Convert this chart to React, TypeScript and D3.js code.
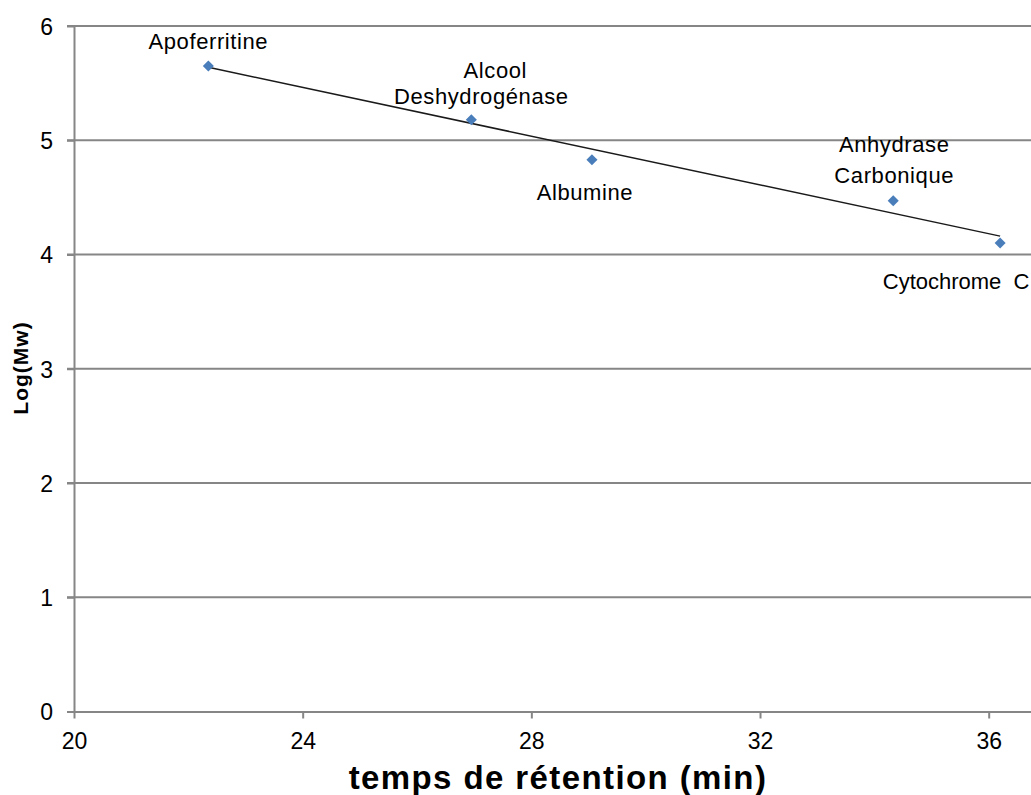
import * as d3 from "d3";
import { FC, useEffect, useRef } from "react";

// retention time (min) and log of molecular weight for each standard
const proteins = [
  ["Apoferritine"],
  ["Alcool", "Deshydrogénase"],
  ["Albumine"],
  ["Anhydrase", "Carbonique"],
  ["Cytochrome  C"],
];
const retention = [22.35, 26.95, 29.06, 34.33, 36.2];
const logMw = [5.65, 5.18, 4.83, 4.47, 4.1];
const xTicks = [20, 24, 28, 32, 36];
const yTicks = [0, 1, 2, 3, 4, 5, 6];

// label placement relative to its point, px: one [dx, dy] per line (baseline)
const labelOffsets: [number, number][][] = [
  [[0, -17]],
  [[24, -42], [10, -16]],
  [[-7, 40]],
  [[1, -49], [1, -18]],
  [[-44, 46]],
];
const labelSpacing = [0.6, 0.6, 0.6, 0.6, 0];

const W = 1031;
const H = 795;
const margin = { top: 26, right: 0, bottom: 83, left: 74 };

const Chart: FC = () => {
  const svgRef = useRef<SVGSVGElement>(null);

  useEffect(() => {
    const svg = d3.select(svgRef.current);
    svg.selectAll("*").remove();
    svg.attr("width", W).attr("height", H);

    const font = "'Liberation Sans', Arial, sans-serif";
    const grey = "#868686";

    const x = d3
      .scaleLinear()
      .domain([20, 36.74])
      .range([margin.left, W - margin.right]);
    const y = d3
      .scaleLinear()
      .domain([0, 6])
      .range([H - margin.bottom - 0.5, margin.top]);

    // gridlines
    svg
      .append("g")
      .selectAll("line")
      .data(yTicks.filter((t) => t > 0))
      .join("line")
      .attr("x1", margin.left - 7)
      .attr("x2", W)
      .attr("y1", (d) => y(d))
      .attr("y2", (d) => y(d))
      .attr("stroke", grey)
      .attr("stroke-width", 2);

    // x axis
    const xAxis = svg
      .append("g")
      .attr("transform", `translate(0, ${y(0)})`)
      .call(d3.axisBottom(x).tickValues(xTicks).tickSize(7).tickSizeOuter(0));
    xAxis.select(".domain").attr("stroke", grey).attr("stroke-width", 2);
    xAxis.selectAll(".tick line").attr("stroke", grey).attr("stroke-width", 2);
    xAxis
      .selectAll(".tick text")
      .attr("font-family", font)
      .attr("font-size", 23)
      .attr("fill", "#000")
      .attr("y", 37)
      .attr("dy", 0);

    // y axis
    const yAxis = svg
      .append("g")
      .attr("transform", `translate(${margin.left}, 0)`)
      .call(
        d3
          .axisLeft(y)
          .tickValues(yTicks)
          .tickFormat(d3.format("d"))
          .tickSize(7)
          .tickSizeOuter(0)
      );
    yAxis.select(".domain").attr("stroke", grey).attr("stroke-width", 2);
    yAxis.selectAll(".tick line").attr("stroke", grey).attr("stroke-width", 2);
    yAxis
      .selectAll(".tick text")
      .attr("font-family", font)
      .attr("font-size", 23)
      .attr("fill", "#000")
      .attr("x", -21)
      .attr("dy", "0.36em");

    // linear trendline (least squares)
    const mx = d3.mean(retention)!;
    const my = d3.mean(logMw)!;
    const sxy = d3.sum(retention, (v, i) => (v - mx) * (logMw[i] - my));
    const sxx = d3.sum(retention, (v) => (v - mx) ** 2);
    const slope = sxy / sxx;
    const icpt = my - slope * mx;
    const [x0, x1] = d3.extent(retention) as [number, number];
    svg
      .append("line")
      .attr("x1", x(x0))
      .attr("x2", x(x1))
      .attr("y1", y(icpt + slope * x0))
      .attr("y2", y(icpt + slope * x1))
      .attr("stroke", "#1a1a1a")
      .attr("stroke-width", 1.5);

    // points
    const pts = retention.map((r, i) => ({ r, v: logMw[i], lines: proteins[i], i }));
    svg
      .append("g")
      .selectAll("path")
      .data(pts)
      .join("path")
      .attr("transform", (d) => `translate(${x(d.r)}, ${y(d.v)})`)
      .attr("d", d3.symbol(d3.symbolDiamond2, 78)())
      .attr("fill", "#4a7ebb");

    // labels
    const lbl = svg.append("g");
    pts.forEach((d) => {
      d.lines.forEach((line, k) => {
        const [dx, dy] = labelOffsets[d.i][k];
        lbl
          .append("text")
          .attr("x", x(d.r) + dx)
          .attr("y", y(d.v) + dy)
          .attr("font-family", font)
          .attr("font-size", 22)
          .attr("letter-spacing", labelSpacing[d.i])
          .attr("text-anchor", "middle")
          .attr("fill", "#000")
          .style("white-space", "pre")
          .text(line);
      });
    });

    // axis titles
    svg
      .append("text")
      .attr("x", 558)
      .attr("y", 789)
      .attr("text-anchor", "middle")
      .attr("font-family", font)
      .attr("font-size", 33)
      .attr("letter-spacing", 1.4)
      .attr("font-weight", "bold")
      .text("temps de rétention (min)");
    svg
      .append("text")
      .attr("transform", `translate(28, 368) rotate(-90)`)
      .attr("text-anchor", "middle")
      .attr("font-family", font)
      .attr("font-size", 21)
      .attr("letter-spacing", 1)
      .attr("font-weight", "bold")
      .text("Log(Mw)");
  }, []);

  return <svg ref={svgRef} style={{ display: "block" }} />;
};

export default function App() {
  return (
    <div
      style={{
        position: "fixed",
        left: 0,
        top: 0,
        width: W,
        height: H,
        overflow: "hidden",
        background: "#fff",
      }}
    >
      <Chart />
    </div>
  );
}
